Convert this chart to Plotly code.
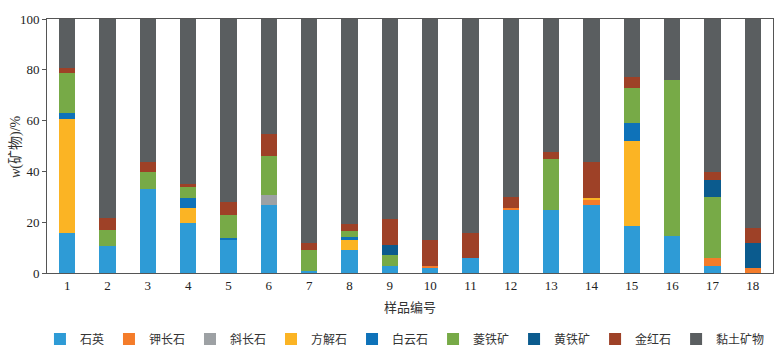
import plotly.graph_objects as go

samples = [str(i) for i in range(1, 19)]
minerals = ["石英", "钾长石", "斜长石", "方解石", "白云石", "菱铁矿", "黄铁矿", "金红石", "黏土矿物"]
colors = ["#2E9BD6", "#F47C2A", "#9DA1A4", "#FBB424", "#0E72B9", "#77AA47", "#0B5B8E", "#9E4127", "#5A5E60"]

quartz      = [15.6, 10.8, 32.9, 19.8, 13.0, 26.9, 0.7, 9.2, 2.9, 2.0, 5.9, 24.8, 24.8, 26.9, 18.7, 14.7, 2.8, 0.0]
k_feldspar  = [0.0, 0.0, 0.0, 0.0, 0.0, 0.0, 0.0, 0.0, 0.0, 0.8, 0.0, 0.8, 0.0, 1.7, 0.0, 0.0, 3.1, 2.0]
plagioclase = [0.0, 0.0, 0.0, 0.0, 0.0, 4.0, 0.0, 0.0, 0.0, 0.0, 0.0, 0.0, 0.0, 0.0, 0.0, 0.0, 0.0, 0.0]
calcite     = [45.2, 0.0, 0.0, 5.8, 0.0, 0.0, 0.0, 3.9, 0.0, 0.0, 0.0, 0.0, 0.0, 1.1, 33.2, 0.0, 0.0, 0.0]
dolomite    = [2.0, 0.0, 0.0, 4.1, 0.9, 0.0, 0.0, 1.1, 0.0, 0.0, 0.0, 0.0, 0.0, 0.0, 7.1, 0.0, 0.0, 0.0]
siderite    = [16.0, 6.0, 6.8, 4.2, 8.8, 15.0, 8.2, 2.2, 4.1, 0.0, 0.0, 0.0, 20.0, 0.0, 13.9, 61.3, 23.9, 0.0]
pyrite      = [0.0, 0.0, 0.0, 0.0, 0.0, 0.0, 0.0, 0.0, 3.9, 0.0, 0.0, 0.0, 0.0, 0.0, 0.0, 0.0, 7.0, 9.7]
rutile      = [2.1, 4.9, 4.1, 1.2, 5.3, 8.9, 2.8, 3.0, 10.3, 10.2, 9.7, 4.2, 2.9, 14.1, 4.1, 0.0, 3.0, 6.0]
clay        = [19.1, 78.3, 56.2, 64.9, 72.0, 45.2, 88.3, 80.6, 78.8, 87.0, 84.4, 70.2, 52.3, 56.2, 23.0, 24.0, 60.2, 82.3]

series = [quartz, k_feldspar, plagioclase, calcite, dolomite, siderite, pyrite, rutile, clay]

FONT = "Liberation Serif, Noto Sans CJK SC, serif"

fig = go.Figure()
for name, vals, col in zip(minerals, series, colors):
    fig.add_trace(go.Bar(
        x=samples, y=vals, name=name,
        marker=dict(color=col, line=dict(width=0)),
    ))

fig.add_annotation(
    text="<i>w</i>(矿物)/%", textangle=-90,
    xref="paper", yref="paper", x=-0.0427, y=0.5,
    xanchor="center", yanchor="middle", showarrow=False,
    font=dict(family=FONT, size=14, color="#333"),
)

fig.update_layout(
    barmode="stack",
    bargap=0.6,
    width=779, height=355,
    margin=dict(l=47, r=6, t=19, b=82, autoexpand=False),
    paper_bgcolor="white",
    plot_bgcolor="white",
    font=dict(family=FONT, size=13, color="#222"),
    showlegend=True,
    legend=dict(
        orientation="h",
        xref="container", yref="container",
        x=0.0513, xanchor="left",
        y=0.045, yanchor="middle",
        itemwidth=30,
        font=dict(family=FONT, size=12, color="#333"),
        traceorder="normal",
    ),
    xaxis=dict(
        type="category",
        showline=True, linecolor="#555", linewidth=1, mirror=True,
        ticks="", showgrid=False,
        tickfont=dict(family=FONT, size=13, color="#222"),
        title=dict(text="样品编号", font=dict(family=FONT, size=13, color="#333"), standoff=11),
    ),
    yaxis=dict(
        range=[0, 100],
        tickvals=[0, 20, 40, 60, 80, 100],
        showline=True, linecolor="#555", linewidth=1, mirror=True,
        ticks="outside", ticklen=4, tickcolor="#555",
        showgrid=False, zeroline=False,
        tickfont=dict(family=FONT, size=13, color="#222"),
    ),
)

fig.write_html("out.html", config={"displayModeBar": False},
               post_script="document.body.style.margin='0';document.body.style.overflow='hidden';")
